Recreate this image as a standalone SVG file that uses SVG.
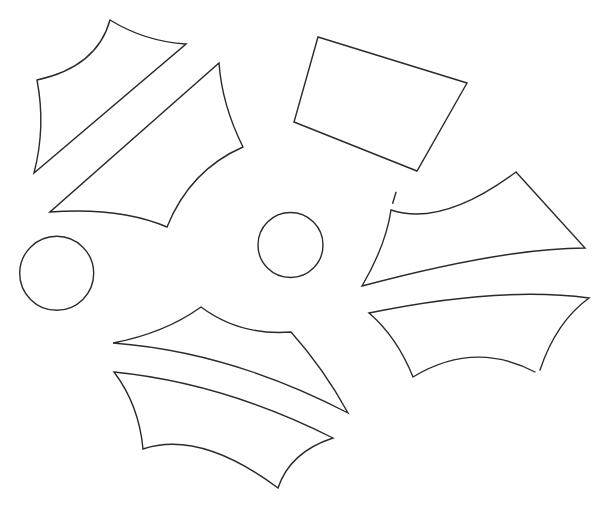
<svg xmlns="http://www.w3.org/2000/svg" width="600" height="520" viewBox="0 0 600 520">
<style>
.s{fill:none;stroke:#2a2a2a;stroke-width:1.4;stroke-linejoin:miter;stroke-linecap:round}
</style>
<rect width="600" height="520" fill="#ffffff"/>
<g id="piece-a"><path class="s" d="M110,20 Q145,41.5 186,44 L34,173 Q46,127 37,80 Q97,67 110,20 Z"/></g>
<g id="piece-b"><path class="s" d="M219,63 Q222,105 243,147 Q190,170 167,227 Q120,207 50,212 Z"/></g>
<g id="quad"><path class="s" d="M318,37 L467,83 L417,171 L294,122 Z"/></g>
<g id="piece-c">
<path class="s" d="M391,210 Q442,227 516,172 L585,248 Q505,248 362,286 Q386,245 391,210 Z"/>
<path class="s" d="M392.7,203.3 L396,192.3"/>
</g>
<g id="piece-d"><path class="s" d="M535,372 Q474,340 413,377 Q397,337 369,313 Q500,286 589,298 Q556,322 540,370"/></g>
<g id="piece-e"><path class="s" d="M113,343 Q165,333 201,307 Q240,336 291,332 Q324,369 348,413 Q231,352 113,343 Z"/></g>
<g id="piece-f"><path class="s" d="M114,372 Q224,383 333,438 Q290,452 278,488 Q200,430 143,449 Q139,405 114,372 Z"/></g>
<g id="circle-left"><circle class="s" cx="56.7" cy="273.3" r="37"/></g>
<g id="circle-mid"><circle class="s" cx="290.5" cy="245" r="32.5"/></g>
</svg>
